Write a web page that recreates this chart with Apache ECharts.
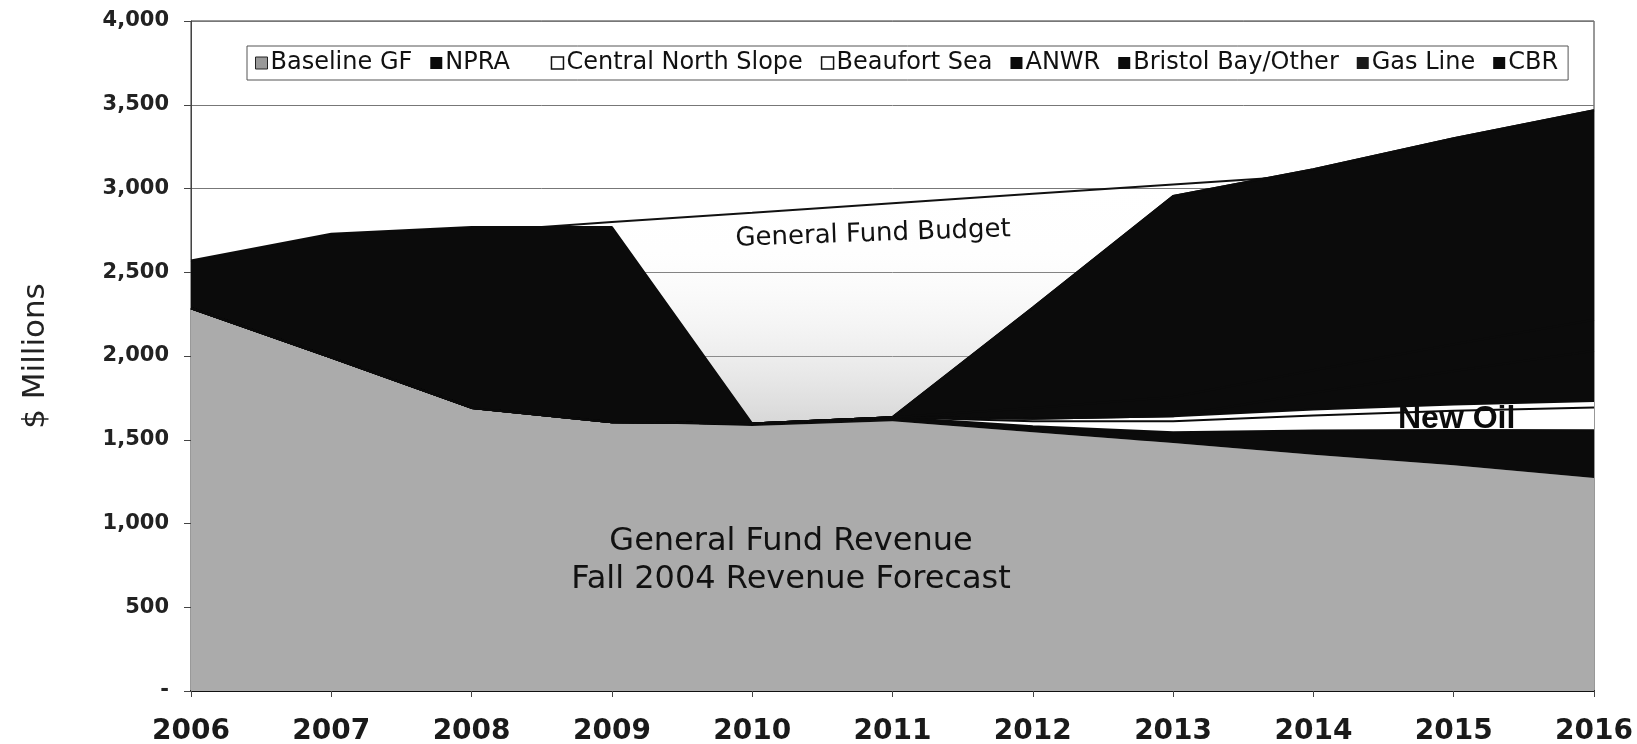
<!DOCTYPE html>
<html>
<head>
<meta charset="utf-8">
<title>General Fund Revenue and Budget</title>
<script src="https://cdn.jsdelivr.net/npm/echarts@6/dist/echarts.min.js"></script>
<style>
  html, body { margin: 0; padding: 0; background: #fff; }
  #main { width: 1637px; height: 744px; }
</style>
</head>
<body>
<div id="main"></div>
<script>
// years on the x axis
var years = ['2006', '2007', '2008', '2009', '2010', '2011', '2012', '2013', '2014', '2015', '2016'];

// stacked revenue pieces, $ millions
var baselineGF = [2285, 1990, 1690, 1605, 1582, 1610, 1545, 1480, 1410, 1348, 1271];
var npra = [0, 0, 0, 0, 15, 25, 35, 65, 145, 210, 286];
var centralNorthSlope = [0, 0, 0, 0, 0, 0, 30, 65, 90, 115, 135];
var beaufortSea = [0, 0, 0, 0, 0, 0, 15, 30, 35, 38, 40];
var anwr = [0, 0, 0, 0, 0, 0, 0, 0, 100, 199, 300];
var bristolBay = [0, 0, 0, 0, 0, 0, 65, 115, 135, 160, 185];
var gasLine = [0, 0, 0, 0, 0, 0, 600, 1200, 1200, 1230, 1250];
var cbr = [285, 740, 1080, 1165, 0, 0, 0, 0, 0, 0, 0];

// general fund budget line
var budget = [2560, 2700, 2740, 2800, 2855, 2912, 2968, 3024, 3079, 3133, 3188];

var yTicks = [0, 500, 1000, 1500, 2000, 2500, 3000, 3500, 4000];

var font = 'DejaVu Sans';
var black = '#0b0b0b';

// one layer of the revenue stack; black layers get a black edge so no seams show
function stackArea(name, data, color, edge) {
  return {
    name: name,
    type: 'line',
    stack: 'revenue',
    data: data,
    showSymbol: false,
    symbol: 'none',
    z: 3,
    lineStyle: { width: edge ? 2 : 0, color: black },
    itemStyle: { color: color },
    areaStyle: { color: color, opacity: 1 },
    emphasis: { disabled: true }
  };
}

var myChart = echarts.init(document.getElementById('main'));

myChart.setOption({
  animation: false,
  backgroundColor: '#fff',
  grid: {
    left: 191, right: 43, top: 21, bottom: 53,
    containLabel: false, outerBoundsMode: 'none',
    show: true, borderColor: '#333', borderWidth: 1
  },
  legend: {
    left: 247,
    top: 46,
    icon: 'rect',
    itemWidth: 12,
    itemHeight: 12,
    itemGap: 18,
    padding: [5, 10, 5, 8],
    borderColor: '#555',
    borderWidth: 1,
    backgroundColor: '#fff',
    formatter: function (name) { return name === 'NPRA' ? name + '   ' : name; },
    textStyle: { fontFamily: font, fontSize: 24, color: '#111', padding: [0, 0, 0, -2] },
    data: [
      { name: 'Baseline GF', itemStyle: { color: '#999', borderColor: '#222', borderWidth: 1 } },
      { name: 'NPRA', itemStyle: { color: black } },
      { name: 'Central North Slope', itemStyle: { color: '#fff', borderColor: '#111', borderWidth: 1.5 } },
      { name: 'Beaufort Sea', itemStyle: { color: '#fff', borderColor: '#111', borderWidth: 1.5 } },
      { name: 'ANWR', itemStyle: { color: black } },
      { name: 'Bristol Bay/Other', itemStyle: { color: black } },
      { name: 'Gas Line', itemStyle: { color: '#1a1a1a' } },
      { name: 'CBR', itemStyle: { color: black } }
    ]
  },
  xAxis: {
    type: 'category',
    boundaryGap: false,
    data: years,
    axisLine: { lineStyle: { color: '#111', width: 2 } },
    axisTick: { show: true, length: 6, lineStyle: { color: '#444' } },
    axisLabel: { fontFamily: font, fontSize: 28, fontWeight: 'bold', color: '#1a1a1a', margin: 27 },
    splitLine: { show: false }
  },
  yAxis: {
    type: 'value',
    min: yTicks[0],
    max: yTicks[yTicks.length - 1],
    interval: 500,
    name: '$ Millions',
    nameLocation: 'middle',
    nameGap: 140,
    nameTextStyle: { fontFamily: font, fontSize: 31, color: '#222' },
    axisLine: { show: true, lineStyle: { color: '#444' } },
    axisTick: { show: true, length: 7, lineStyle: { color: '#444' } },
    axisLabel: {
      fontFamily: font, fontSize: 21, fontWeight: 'bold', color: '#222', margin: 22,
      formatter: function (v) { return v === 0 ? '-' : v.toLocaleString('en-US'); }
    },
    splitLine: { show: true, lineStyle: { color: '#777', width: 1 } }
  },
  series: [
    {
      name: 'General Fund Budget',
      type: 'line',
      data: budget,
      showSymbol: false,
      symbol: 'none',
      z: 1,
      lineStyle: { color: '#111', width: 2 },
      areaStyle: {
        color: {
          type: 'linear', x: 0, y: 0, x2: 0, y2: 1,
          colorStops: [
            { offset: 0, color: 'rgba(255,255,255,0)' },
            { offset: 0.18, color: 'rgba(240,240,240,0.1)' },
            { offset: 0.5, color: 'rgba(160,160,160,0.6)' },
            { offset: 1, color: 'rgba(150,150,150,0.6)' }
          ]
        }
      },
      emphasis: { disabled: true }
    },
    stackArea('Baseline GF', baselineGF, '#ababab', false),
    stackArea('NPRA', npra, black, true),
    stackArea('Central North Slope', centralNorthSlope, '#fff', true),
    stackArea('Beaufort Sea', beaufortSea, '#fff', true),
    stackArea('ANWR', anwr, black, true),
    stackArea('Bristol Bay/Other', bristolBay, black, true),
    stackArea('Gas Line', gasLine, black, true),
    stackArea('CBR', cbr, black, true)
  ],
  graphic: [
    {
      type: 'text', x: 735, y: 226, rotation: 0.035, z: 100,
      style: { text: 'General Fund Budget', font: '26px "DejaVu Sans"', fill: '#111' }
    },
    {
      type: 'text', x: 791, y: 523, z: 100,
      style: {
        text: 'General Fund Revenue\nFall 2004 Revenue Forecast',
        font: '32px "DejaVu Sans"', fill: '#111', align: 'center', lineHeight: 38
      }
    },
    {
      type: 'text', x: 1398, y: 403, z: 100,
      style: { text: 'New Oil', font: 'bold 32px "Liberation Sans"', fill: '#0b0b0b' }
    }
  ]
});
</script>
</body>
</html>
